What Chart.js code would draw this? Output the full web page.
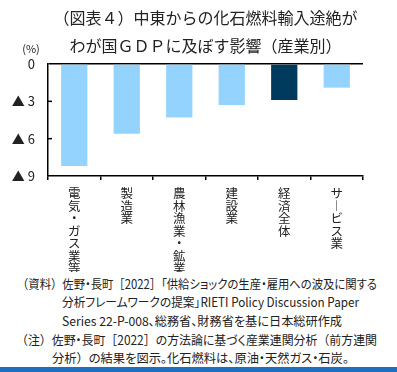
<!DOCTYPE html>
<html>
<head>
<meta charset="utf-8">
<script src="https://cdn.jsdelivr.net/npm/chart.js@4"></script>
<style>
  body { margin:0; background:#fff; width:397px; height:372px; overflow:hidden; position:relative; font-family:"Noto Sans CJK JP", sans-serif; }
  #wrap { position:absolute; left:0; top:0; width:397px; height:272px; }
  .note { position:absolute; font-size:12.5px; color:#222; white-space:nowrap; font-feature-settings:"palt"; line-height:18px; transform-origin:0 50%; }
  .note .w { font-feature-settings:normal; }
  #band { position:absolute; left:0; top:367px; width:397px; height:5px; background:#1f6fc0; }
</style>
</head>
<body>
<div id="wrap"><canvas id="cv" width="397" height="272"></canvas></div>
<div class="note" data-w="360" style="left:17px;top:275px"><span class="w">（資料）</span>佐野・長町<span class="w">［</span>2022<span class="w">］</span>「供給ショックの生産・雇用への波及に関する</div>
<div class="note" data-w="297" style="left:62px;top:293px">分析フレームワークの提案」RIETI Policy Discussion Paper</div>
<div class="note" data-w="280" style="left:62px;top:312px">Series 22-P-008、総務省、財務省を基に日本総研作成</div>
<div class="note" data-w="361" style="left:16px;top:331px"><span class="w">（注）</span>佐野・長町<span class="w">［</span>2022<span class="w">］</span>の方法論に基づく産業連関分析<span class="w">（</span>前方連関</div>
<div class="note" data-w="297" style="left:52px;top:349px">分析<span class="w">）</span>の結果を図示。化石燃料は、原油・天然ガス・石炭。</div>
<div id="band"></div>
<script>
var categories = ['電気・ガス業等', '製造業', '農林漁業・鉱業', '建設業', '経済全体', 'サービス業'];
var impact = [-8.2, -5.6, -4.3, -3.3, -2.9, -1.9];
var titleLines = ['（図表４）中東からの化石燃料輸入途絶が', 'わが国ＧＤＰに及ぼす影響（産業別）'];
var unitLabel = '(%)';
var highlight = '経済全体';

var lightBlue = '#93d3fe';
var darkBlue = '#003a5c';
var jp = '"Noto Sans CJK JP", sans-serif';

// vertical labels: one character per line
var stacked = categories.map(function (c) {
    return Array.from(c.replace('ー', '︱'));
});

// squeeze the note lines to the widths of the original
document.querySelectorAll('.note').forEach(function (el) {
    var w = el.getBoundingClientRect().width;
    el.style.transform = 'scaleX(' + (parseFloat(el.dataset.w) / w) + ')';
});

var extras = {
    id: 'extras',
    afterDraw(chart) {
        var ctx = chart.ctx, area = chart.chartArea, y = chart.scales.y;
        ctx.save();
        ctx.strokeStyle = '#000';
        ctx.lineWidth = 1.5;
        y.ticks.forEach(function (t) {
            if (t.value === 0 || t.value === -9) return;
            var py = y.getPixelForValue(t.value);
            ctx.beginPath();
            ctx.moveTo(area.left, py);
            ctx.lineTo(area.left + 4, py);
            ctx.stroke();
        });
        ctx.fillStyle = '#222';
        ctx.font = '11px ' + jp;
        ctx.textAlign = 'center';
        ctx.textBaseline = 'middle';
        ctx.fillText(unitLabel, area.left - 17, area.top - 15);
        ctx.restore();
    }
};

new Chart(document.getElementById('cv').getContext('2d'), {
    type: 'bar',
    data: {
        labels: stacked,
        datasets: [{
            data: impact,
            backgroundColor: categories.map(function (c) { return c === highlight ? darkBlue : lightBlue; }),
            categoryPercentage: 1,
            barPercentage: 0.5
        }]
    },
    options: {
        responsive: false,
        animation: false,
        layout: { padding: { left: 9, right: 34, top: 4, bottom: 0 } },
        plugins: {
            legend: { display: false },
            tooltip: { enabled: false },
            title: {
                display: true,
                fullSize: false,
                text: titleLines,
                color: '#222',
                font: { family: jp, size: 16, weight: 'normal', lineHeight: 1.75 },
                padding: { top: 0, bottom: 4 }
            }
        },
        scales: {
            x: {
                grid: { offset: true, drawOnChartArea: false, tickLength: 4, color: '#000', lineWidth: 1.5 },
                border: { color: '#000', width: 1.5 },
                ticks: {
                    color: '#222',
                    font: { family: jp, size: 12.5, lineHeight: 1.0 },
                    padding: 7,
                    maxRotation: 0,
                    autoSkip: false
                },
                afterFit(scale) { scale.height = 96; }
            },
            y: {
                min: -9,
                max: 0,
                grid: {
                    drawTicks: false,
                    color: function (c) { return c.tick && c.tick.value === 0 ? '#000' : 'rgba(0,0,0,0)'; },
                    lineWidth: 1.5
                },
                border: { color: '#000', width: 1.5 },
                ticks: {
                    stepSize: 3,
                    padding: 13,
                    color: '#222',
                    font: { family: jp, size: 13 },
                    callback: function (v) { return v === 0 ? '0' : '▲ ' + (-v); }
                },
                afterFit(scale) { scale.width = 39; }
            }
        }
    },
    plugins: [extras]
});
</script>
</body>
</html>
